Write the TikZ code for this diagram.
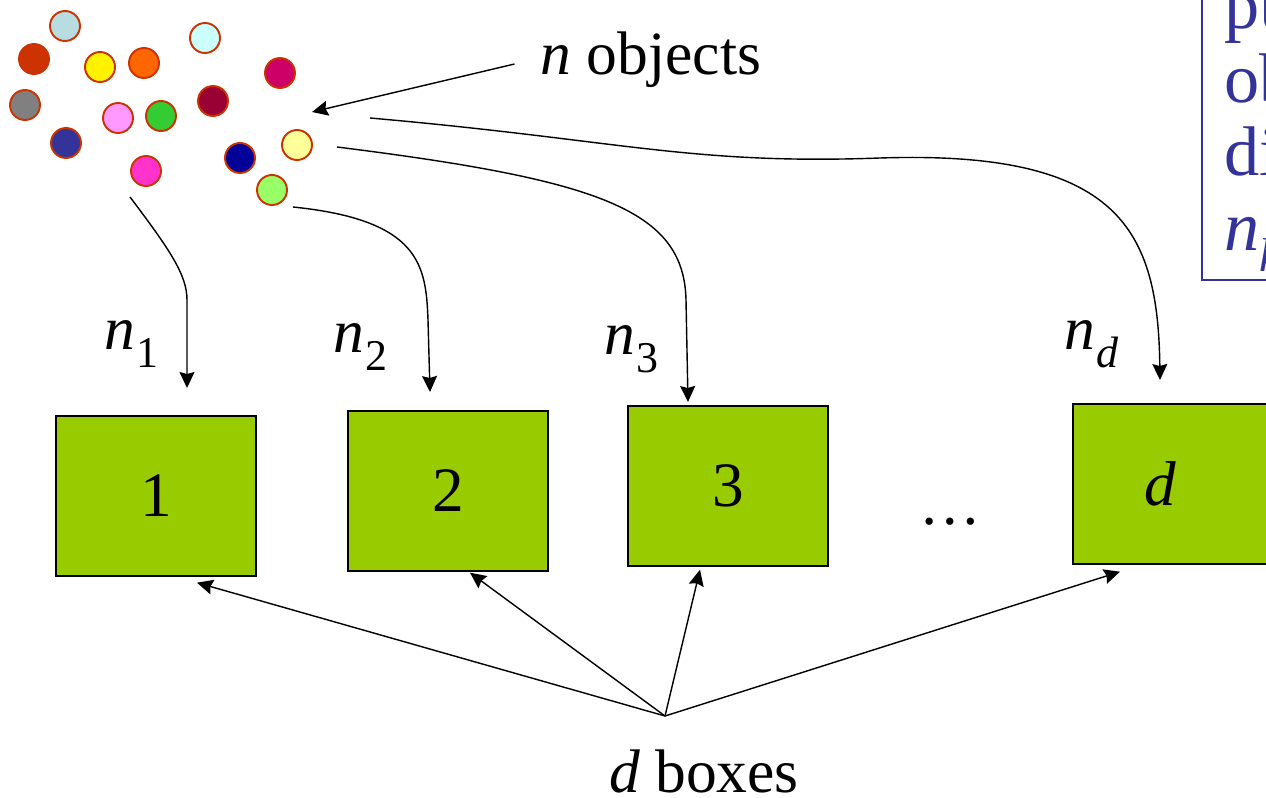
\documentclass[tikz,border=0pt]{standalone}
\usepackage{fontspec}
\setmainfont{Liberation Serif}
\usepackage{xcolor}
\usetikzlibrary{arrows.meta}
\usetikzlibrary{calc}
\usetikzlibrary{positioning}

\definecolor{boxgreen}{HTML}{99CC00}
\definecolor{rim}{HTML}{CC3300}
\definecolor{noteblue}{HTML}{333399}

\newcommand{\nsub}[1]{\textit{n}\kern0.02em\raisebox{-0.3em}{\fontsize{25}{25}\selectfont #1}}

\begin{document}
\begin{tikzpicture}
[
	x = 0.02cm, y = -0.02cm,
	obj/.style = {circle, draw = rim, line width = 1.1pt, minimum size = 0.6cm, inner sep = 0cm},
	bin/.style = {rectangle, draw = black, line width = 0.8pt, fill = boxgreen, minimum width = 4cm, minimum height = 3.2cm, font = \fontsize{36}{40}\selectfont},
	lbl/.style = {font = \fontsize{35}{40}\selectfont, inner sep = 0cm},
	note/.style = {font = \fontsize{40}{42}\selectfont, text = noteblue, inner sep = 0cm, anchor = base west},
	link/.style = {-{Stealth[length = 0.32cm, width = 0.3cm, inset = 0.04cm]}, line width = 0.8pt},
]
	\useasboundingbox (0,0) rectangle (1266,797);
	\clip (0,0) rectangle (1266,797);

	% objects
	\node (o1) [obj, fill = {rgb,255:red,184;green,221;blue,224}] at (65,26) {};
	\node (o2) [obj, fill = rim] at (34,59) {};
	\node (o3) [obj, fill = yellow] at (100,67) {};
	\node (o4) [obj, fill = {rgb,255:red,255;green,102;blue,0}] at (144,63) {};
	\node (o5) [obj, fill = {rgb,255:red,204;green,255;blue,255}] at (205,38) {};
	\node (o6) [obj, fill = {rgb,255:red,204;green,0;blue,102}] at (280,73) {};
	\node (o7) [obj, fill = {rgb,255:red,128;green,128;blue,128}] at (25,105) {};
	\node (o8) [obj, fill = {rgb,255:red,255;green,153;blue,255}] at (118,118) {};
	\node (o9) [obj, fill = {rgb,255:red,51;green,204;blue,51}] at (161,116) {};
	\node (o10) [obj, fill = {rgb,255:red,153;green,0;blue,51}] at (213,101) {};
	\node (o11) [obj, fill = noteblue] at (66,143) {};
	\node (o12) [obj, fill = {rgb,255:red,255;green,51;blue,204}] at (146,171) {};
	\node (o13) [obj, fill = {rgb,255:red,0;green,0;blue,153}] at (240,158) {};
	\node (o14) [obj, fill = {rgb,255:red,255;green,255;blue,153}] at (297,145) {};
	\node (o15) [obj, fill = {rgb,255:red,153;green,255;blue,102}] at (272,190) {};

	\node (nobj) [lbl] at (651,60) {\textit{n} objects};
	\coordinate (heap) at (312,112);
	\draw [link] (nobj.west) ++(-26,4) coordinate (nfrom) -- (heap);

	% boxes
	\node (b1) [bin] at (156,496) {1};
	\node (b2) [bin] at (448,491) {2};
	\node (b3) [bin] at (728,486) {3};
	\node (bd) [bin] at (1173,484) {\hspace{-0.4em}\textit{d}};
	\node (dots) [lbl] at (950,522) {\ldots};

	% counts
	\node (n1) [lbl] at (131,344) {\nsub{1}};
	\node (n2) [lbl] at (360,347) {\nsub{2}};
	\node (n3) [lbl] at (631,349) {\nsub{3}};
	\node (nd) [lbl] at (1092,344) {\nsub{\textit{d}}};

	% paths into the boxes
	\coordinate (s1) at (130,197);
	\coordinate (s2) at (293,207);
	\coordinate (s3) at (337,147);
	\coordinate (s4) at (370,118);
	\coordinate (t1) at (187,388);
	\coordinate (t2) at (430,392);
	\coordinate (t3) at (688,402);
	\coordinate (t4) at (1160,380);
	\draw [link] (s1) .. controls (170,250) and (187,275) .. (187,300) -- (t1);
	\draw [link] (s2) .. controls (420,220) and (426,265) .. (428,320) -- (t2);
	\draw [link] (s3) .. controls (600,180) and (684,210) .. (686,300) -- (t3);
	\draw [link] (s4) .. controls (620,140) and (690,165) .. (880,158)
		.. controls (1120,150) and (1158,230) .. (t4);

	% boxes label
	\node (dbox) [lbl] at (704,771) {\textit{d} boxes};
	\coordinate (hub) at (665,716);
	\draw [link] (hub) -- ($(b1.south)+(41,6)$);
	\draw [link] (hub) -- ($(b2.south)+(22,1)$);
	\draw [link] (hub) -- ($(b3.south)+(-28,3)$);
	\draw [link] (hub) -- ($(bd.south)+(-53,7)$);

	% note (cut at the edge)
	\draw [noteblue, line width = 1pt] (1202,-10) rectangle (1320,280);
	\node (p1) [note] at (1224,29) {pu};
	\node (p2) [note] at (1224,103) {ob};
	\node (p3) [note] at (1224,175) {di};
	\node (p4) [note] at (1224,250) {\textit{n}\raisebox{-0.3em}{\fontsize{27}{27}\selectfont\textit{k}}};

\end{tikzpicture}
\end{document}
